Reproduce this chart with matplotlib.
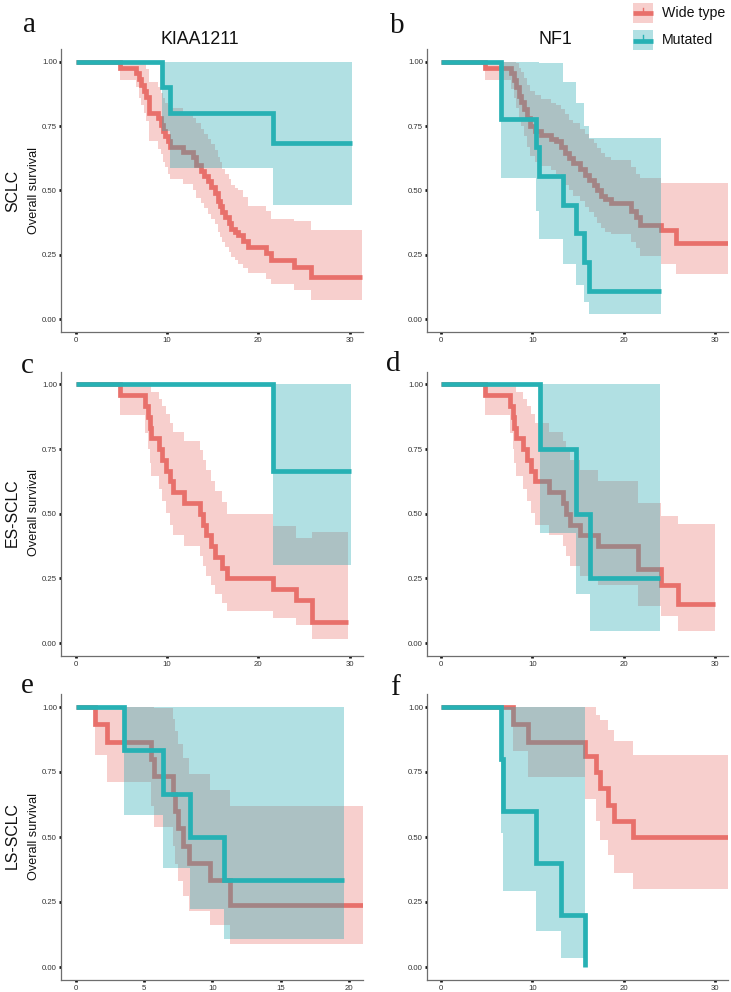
import matplotlib
matplotlib.use("Agg")
import matplotlib.pyplot as plt
from matplotlib.patches import Rectangle
from matplotlib.lines import Line2D

# ---------------- data ----------------
groups = ["Wide type", "Mutated"]
col_titles = ["KIAA1211", "NF1"]
row_titles = ["SCLC", "ES-SCLC", "LS-SCLC"]
panel_letters = ["a", "b", "c", "d", "e", "f"]
y_ticks = [0.0, 0.25, 0.5, 0.75, 1.0]
y_tick_labels = ["0.00", "0.25", "0.50", "0.75", "1.00"]
x_ticks_30 = [0, 10, 20, 30]
x_ticks_20 = [0, 5, 10, 15, 20]

# panel a : SCLC / KIAA1211
a_wt_time = [0, 4.9, 6.65, 6.95, 7.2, 7.45, 7.75, 8.05, 9.0, 9.3, 9.55, 9.8, 10.1, 10.35, 11.7, 12.85,
             13.2, 13.75, 14.1, 14.45, 14.85, 15.2, 15.55, 15.75, 16.05, 16.4, 16.75, 17.0, 17.4,
             17.75, 18.3, 18.85, 20.85, 21.4, 23.9, 25.75]
a_wt_surv = [1.0, 0.977, 0.955, 0.932, 0.909, 0.886, 0.864, 0.80, 0.78, 0.755, 0.73, 0.71, 0.69, 0.67,
             0.65, 0.63, 0.60, 0.575, 0.555, 0.535, 0.515, 0.49, 0.46, 0.44, 0.415, 0.395, 0.375,
             0.35, 0.34, 0.325, 0.305, 0.28, 0.255, 0.23, 0.203, 0.165]
a_wt_upper = [1.0, 1.0, 1.0, 1.0, 1.0, 0.99, 0.97, 0.92, 0.90, 0.88, 0.86, 0.84, 0.83, 0.82, 0.80,
              0.78, 0.76, 0.74, 0.72, 0.70, 0.68, 0.655, 0.63, 0.61, 0.585, 0.565, 0.545, 0.52,
              0.51, 0.50, 0.475, 0.44, 0.42, 0.39, 0.38, 0.345]
a_wt_lower = [1.0, 0.93, 0.90, 0.86, 0.83, 0.80, 0.77, 0.69, 0.66, 0.64, 0.61, 0.59, 0.565, 0.545,
              0.525, 0.50, 0.47, 0.45, 0.43, 0.41, 0.39, 0.37, 0.34, 0.32, 0.30, 0.28, 0.26, 0.24,
              0.23, 0.215, 0.20, 0.18, 0.155, 0.135, 0.115, 0.075]
a_wt_end = 31.3
a_mut_time = [0, 9.45, 10.36, 21.64]
a_mut_surv = [1.0, 0.90, 0.80, 0.686]
a_mut_lower = [1.0, 0.732, 0.587, 0.445]
a_mut_upper = [1.0, 1.0, 1.0, 1.0]
a_mut_end = 30.2

# panel b : SCLC / NF1
b_wt_time = [0, 4.85, 7.7, 7.96, 8.25, 8.5, 8.8, 9.09, 9.42, 9.71, 10.26, 10.99, 12.08, 12.63, 13.18,
             13.54, 13.98, 14.45, 15.18, 15.73, 16.17, 16.72, 17.08, 17.55, 17.99, 18.65, 20.84,
             21.39, 21.75, 24.12, 25.77]
b_wt_surv = [1.0, 0.977, 0.955, 0.93, 0.90, 0.865, 0.845, 0.815, 0.78, 0.75, 0.73, 0.715, 0.70, 0.69,
             0.67, 0.645, 0.625, 0.605, 0.585, 0.56, 0.54, 0.52, 0.50, 0.48, 0.465, 0.45, 0.42,
             0.395, 0.365, 0.345, 0.295]
b_wt_upper = [1.0, 1.0, 1.0, 1.0, 0.995, 0.975, 0.96, 0.935, 0.91, 0.885, 0.87, 0.855, 0.84, 0.83,
              0.815, 0.795, 0.775, 0.76, 0.74, 0.72, 0.70, 0.685, 0.665, 0.645, 0.63, 0.62, 0.59,
              0.565, 0.55, 0.53, 0.53]
b_wt_lower = [1.0, 0.93, 0.895, 0.86, 0.82, 0.77, 0.75, 0.71, 0.67, 0.635, 0.61, 0.595, 0.58, 0.565,
              0.545, 0.52, 0.50, 0.48, 0.46, 0.435, 0.415, 0.395, 0.375, 0.355, 0.34, 0.33, 0.30,
              0.275, 0.245, 0.215, 0.175]
b_wt_end = 31.4
b_mut_time = [0, 6.6, 10.44, 10.69, 13.36, 14.82, 15.66, 16.17]
b_mut_surv = [1.0, 0.778, 0.667, 0.556, 0.444, 0.333, 0.222, 0.111]
b_mut_lower = [1.0, 0.548, 0.420, 0.310, 0.214, 0.132, 0.065, 0.018]
b_mut_upper = [1.0, 1.0, 1.0, 0.996, 0.922, 0.84, 0.75, 0.705]
b_mut_end = 24.12

# panel c : ES-SCLC / KIAA1211
c_wt_time = [0, 4.9, 7.6, 7.9, 8.1, 8.3, 9.1, 9.5, 9.9, 10.35, 10.65, 11.9, 13.6, 13.9, 14.3, 14.8,
             15.2, 16.0, 16.6, 21.6, 24.1, 25.9]
c_wt_surv = [1.0, 0.958, 0.917, 0.875, 0.833, 0.792, 0.75, 0.708, 0.667, 0.625, 0.583, 0.542, 0.50,
             0.458, 0.417, 0.375, 0.333, 0.292, 0.25, 0.208, 0.167, 0.083]
c_wt_lower = [1.0, 0.881, 0.812, 0.752, 0.697, 0.645, 0.595, 0.548, 0.502, 0.458, 0.416, 0.375,
              0.335, 0.297, 0.26, 0.224, 0.189, 0.156, 0.125, 0.096, 0.068, 0.017]
c_wt_upper = [1.0, 1.0, 1.0, 1.0, 0.997, 0.972, 0.945, 0.915, 0.885, 0.852, 0.817, 0.783, 0.746,
              0.708, 0.669, 0.628, 0.587, 0.544, 0.50, 0.454, 0.408, 0.43]
c_wt_end = 29.85
c_mut_time = [0, 21.64]
c_mut_surv = [1.0, 0.667]
c_mut_lower = [1.0, 0.30]
c_mut_upper = [1.0, 1.0]
c_mut_end = 30.18

# panel d : ES-SCLC / NF1
d_wt_time = [0, 4.82, 7.54, 7.83, 8.0, 8.19, 9.02, 9.46, 9.82, 10.25, 11.81, 13.37, 13.73, 14.17,
             15.25, 17.25, 21.6, 24.06, 25.94]
d_wt_surv = [1.0, 0.958, 0.917, 0.875, 0.833, 0.792, 0.75, 0.708, 0.667, 0.625, 0.583, 0.542, 0.50,
             0.458, 0.417, 0.375, 0.285, 0.226, 0.15]
d_wt_lower = [1.0, 0.881, 0.812, 0.752, 0.697, 0.645, 0.595, 0.548, 0.502, 0.458, 0.416, 0.375,
              0.335, 0.297, 0.26, 0.224, 0.145, 0.103, 0.045]
d_wt_upper = [1.0, 1.0, 1.0, 1.0, 0.997, 0.972, 0.945, 0.915, 0.885, 0.852, 0.817, 0.783, 0.746,
              0.708, 0.669, 0.628, 0.54, 0.49, 0.46]
d_wt_end = 30.04
d_mut_time = [0, 10.8, 14.82, 16.27]
d_mut_surv = [1.0, 0.75, 0.50, 0.25]
d_mut_lower = [1.0, 0.426, 0.188, 0.046]
d_mut_upper = [1.0, 1.0, 1.0, 1.0]
d_mut_end = 23.95

# panel e : LS-SCLC / KIAA1211
e_wt_time = [0, 1.41, 2.26, 5.54, 5.71, 7.12, 7.29, 7.48, 7.85, 8.29, 9.84, 11.25]
e_wt_surv = [1.0, 0.933, 0.867, 0.80, 0.733, 0.667, 0.60, 0.533, 0.467, 0.40, 0.333, 0.24]
e_wt_lower = [1.0, 0.815, 0.711, 0.621, 0.540, 0.466, 0.397, 0.332, 0.272, 0.215, 0.163, 0.09]
e_wt_upper = [1.0, 1.0, 1.0, 1.0, 0.995, 0.953, 0.907, 0.856, 0.802, 0.743, 0.68, 0.62]
e_wt_end = 20.97
e_mut_time = [0, 3.52, 6.39, 8.34, 10.81]
e_mut_surv = [1.0, 0.833, 0.667, 0.50, 0.333]
e_mut_lower = [1.0, 0.583, 0.379, 0.225, 0.107]
e_mut_upper = [1.0, 1.0, 1.0, 1.0, 1.0]
e_mut_end = 19.64

# panel f : LS-SCLC / NF1
f_wt_time = [0, 7.88, 9.53, 15.73, 17.0, 17.37, 18.28, 18.94, 21.02]
f_wt_surv = [1.0, 0.933, 0.867, 0.81, 0.75, 0.69, 0.625, 0.56, 0.50]
f_wt_lower = [1.0, 0.83, 0.73, 0.645, 0.56, 0.49, 0.43, 0.36, 0.30]
f_wt_upper = [1.0, 1.0, 1.0, 1.0, 0.97, 0.95, 0.91, 0.87, 0.815]
f_wt_end = 31.4
f_mut_time = [0, 6.6, 6.79, 10.44, 13.18, 15.73]
f_mut_surv = [1.0, 0.8, 0.6, 0.4, 0.2, 0.0]
f_mut_lower = [1.0, 0.516, 0.293, 0.137, 0.035, 0.0]
f_mut_upper = [1.0, 1.0, 1.0, 1.0, 1.0, 0.0]
f_mut_end = 15.73

# ---------------- style ----------------
RED = "#E8706B"
RED_BAND = "#E86E6A"
TEAL = "#27B1B4"
TEAL_BAND = "#29AAB4"
SANS = ["Liberation Sans", "DejaVu Sans"]
SERIF = ["Liberation Serif", "DejaVu Serif"]
plt.rcParams["font.family"] = SANS

W, H = 731, 992
fig = plt.figure(figsize=(W / 100, H / 100), dpi=100)


def px_rect(left, top, right, bottom):
    return [left / W, 1 - bottom / H, (right - left) / W, (bottom - top) / H]


col_px = [(61, 363), (427, 728)]
row_px = [(48.8, 332), (371.5, 656), (694, 980)]

panels = [
    dict(wt=(a_wt_time, a_wt_surv, a_wt_lower, a_wt_upper, a_wt_end),
         mut=(a_mut_time, a_mut_surv, a_mut_lower, a_mut_upper, a_mut_end), xlim=(-1.6, 31.45), xt=x_ticks_30),
    dict(wt=(b_wt_time, b_wt_surv, b_wt_lower, b_wt_upper, b_wt_end),
         mut=(b_mut_time, b_mut_surv, b_mut_lower, b_mut_upper, b_mut_end), xlim=(-1.55, 31.45), xt=x_ticks_30),
    dict(wt=(c_wt_time, c_wt_surv, c_wt_lower, c_wt_upper, c_wt_end),
         mut=(c_mut_time, c_mut_surv, c_mut_lower, c_mut_upper, c_mut_end), xlim=(-1.6, 31.45), xt=x_ticks_30),
    dict(wt=(d_wt_time, d_wt_surv, d_wt_lower, d_wt_upper, d_wt_end),
         mut=(d_mut_time, d_mut_surv, d_mut_lower, d_mut_upper, d_mut_end), xlim=(-1.55, 31.45), xt=x_ticks_30),
    dict(wt=(e_wt_time, e_wt_surv, e_wt_lower, e_wt_upper, e_wt_end),
         mut=(e_mut_time, e_mut_surv, e_mut_lower, e_mut_upper, e_mut_end), xlim=(-1.07, 21.0), xt=x_ticks_20),
    dict(wt=(f_wt_time, f_wt_surv, f_wt_lower, f_wt_upper, f_wt_end),
         mut=(f_mut_time, f_mut_surv, f_mut_lower, f_mut_upper, f_mut_end), xlim=(-1.55, 31.45), xt=x_ticks_30),
]


def draw_band(ax, series, color, alpha, z):
    t, s, lo, hi, end = series
    tt = list(t) + [end]
    ax.fill_between(tt, list(lo) + [lo[-1]], list(hi) + [hi[-1]], step="post",
                    color=color, alpha=alpha, linewidth=0, zorder=z)


def draw_line(ax, series, color, z):
    t, s, lo, hi, end = series
    tt = list(t) + [end]
    ax.step(tt, list(s) + [s[-1]], where="post", color=color, lw=3.4,
            solid_capstyle="butt", solid_joinstyle="miter", zorder=z)


for i, p in enumerate(panels):
    r, c = divmod(i, 2)
    l, rr = col_px[c]
    t, b = row_px[r]
    ax = fig.add_axes(px_rect(l, t, rr, b))
    draw_band(ax, p["wt"], RED_BAND, 0.33, 1)
    draw_line(ax, p["wt"], RED, 2)
    draw_band(ax, p["mut"], TEAL_BAND, 0.36, 3)
    draw_line(ax, p["mut"], TEAL, 4)
    ax.set_xlim(*p["xlim"])
    ax.set_ylim(-0.05, 1.05)
    ax.set_xticks(p["xt"])
    ax.set_yticks(y_ticks)
    ax.set_yticklabels(y_tick_labels)
    for side in ("top", "right"):
        ax.spines[side].set_visible(False)
    for side in ("left", "bottom"):
        ax.spines[side].set_color("#6E6E6E")
        ax.spines[side].set_linewidth(0.9)
    ax.tick_params(axis="both", length=1.6, width=2.0, color="#111111",
                   labelsize=5.6, labelcolor="#333333", pad=1.2)
    ax.tick_params(axis="x", pad=2.0)

# column titles
fig.text(200 / W, 1 - 39 / H, col_titles[0], ha="center", va="center", fontsize=12.8, color="#111111")
fig.text(555 / W, 1 - 39.5 / H, col_titles[1], ha="center", va="center", fontsize=12.8, color="#111111")

# row labels and y labels
row_centers = [191, 513, 836]
for r in range(3):
    fig.text(12.5 / W, 1 - row_centers[r] / H, row_titles[r], rotation=90, ha="center", va="center",
             fontsize=11.4, color="#111111")
    fig.text(34 / W, 1 - row_centers[r] / H, "Overall survival", rotation=90, ha="center", va="center",
             fontsize=9.1, color="#111111")

# panel letters
letter_pos = [(30, 32), (397, 33), (27, 373), (393, 371), (27, 693), (395, 695)]
for (x, y), ch in zip(letter_pos, panel_letters):
    fig.text(x / W, 1 - y / H, ch, ha="center", va="baseline", fontsize=21,
             family=SERIF, color="#111111")

# legend
lax = fig.add_axes(px_rect(628, 0, 731, 52))
lax.set_xlim(628, 731)
lax.set_ylim(52, 0)
lax.axis("off")
for name, yc, lc, bc, ba in [(groups[0], 12.5, RED, RED_BAND, 0.33), (groups[1], 40, TEAL, TEAL_BAND, 0.36)]:
    lax.add_patch(Rectangle((633, yc - 10), 20, 20, facecolor=bc, alpha=ba, linewidth=0))
    lax.add_line(Line2D([633, 653], [yc + 0.5, yc + 0.5], color=lc, lw=3.4, solid_capstyle="butt"))
    lax.add_line(Line2D([643, 643], [yc - 5, yc], color=lc, lw=1.0))
    lax.text(662, yc, name, ha="left", va="center", fontsize=10.2, color="#111111")

fig.savefig("out.png", dpi=100)
